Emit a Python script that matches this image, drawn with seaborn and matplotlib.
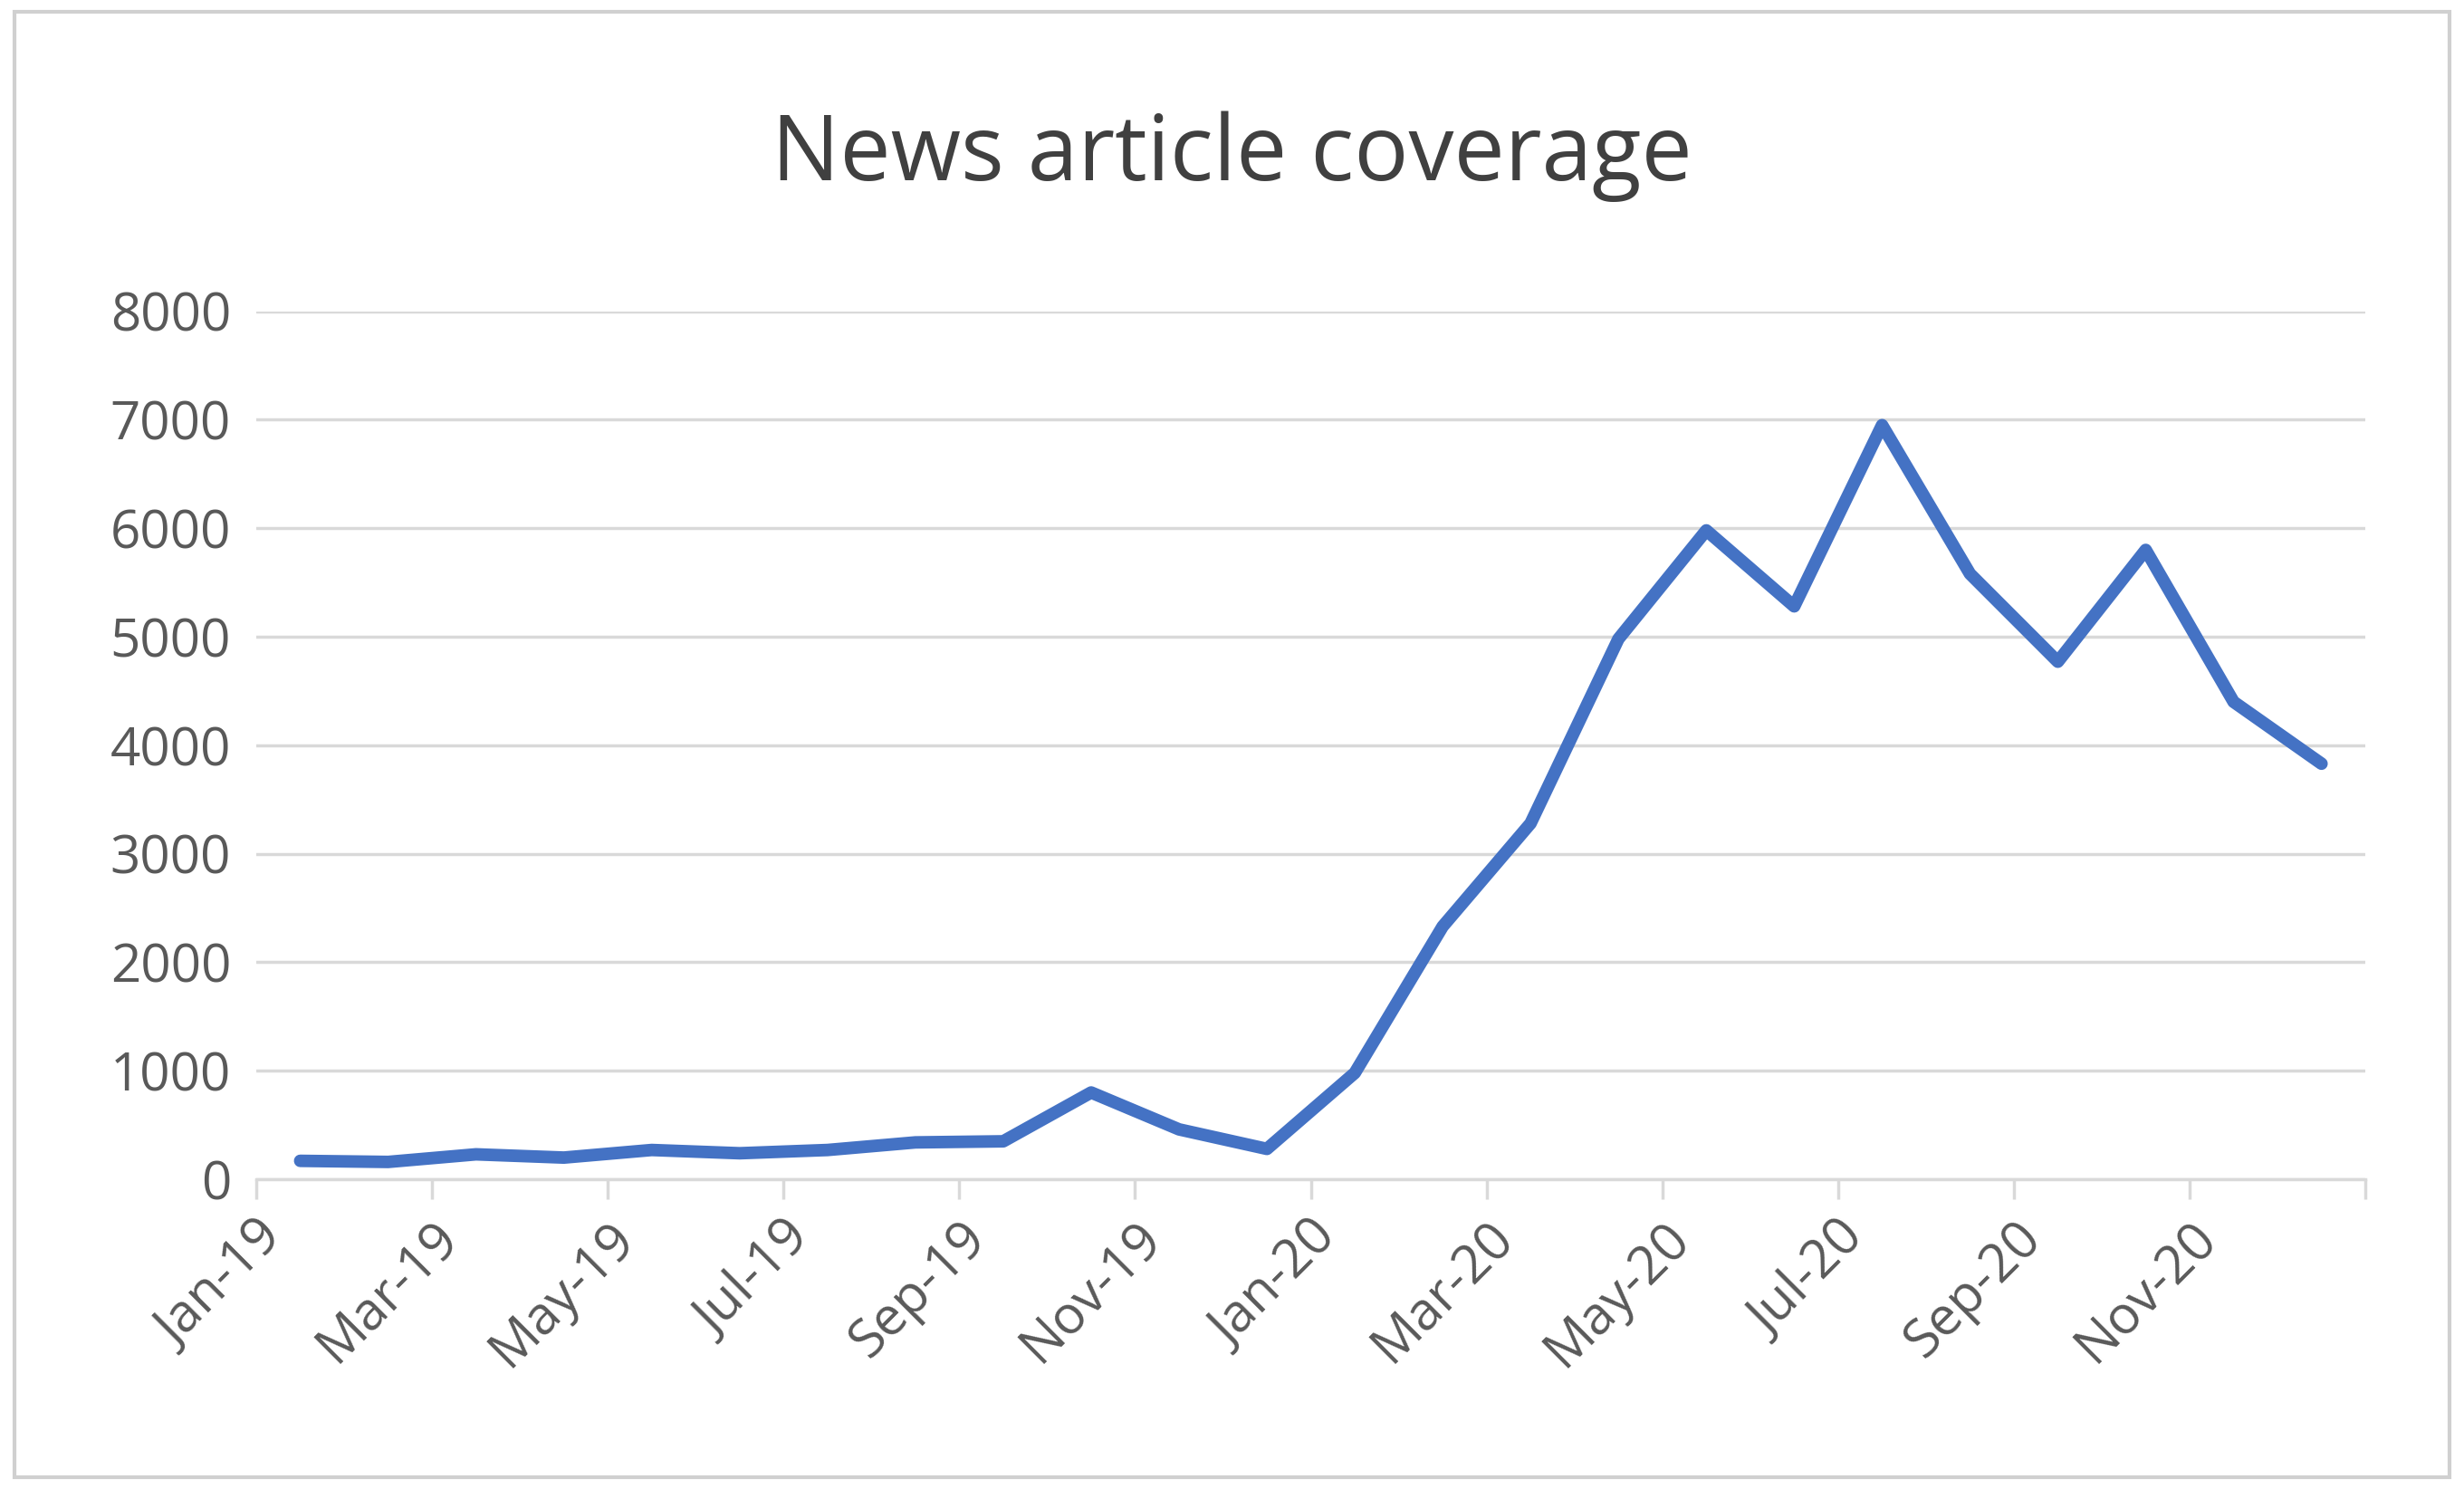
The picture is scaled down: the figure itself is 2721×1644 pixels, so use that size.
import matplotlib
matplotlib.use("Agg")
import matplotlib.pyplot as plt
import seaborn as sns
import pandas as pd
import numpy as np
from matplotlib.patches import Rectangle

months = ["Jan-19", "Feb-19", "Mar-19", "Apr-19", "May-19", "Jun-19",
          "Jul-19", "Aug-19", "Sep-19", "Oct-19", "Nov-19", "Dec-19",
          "Jan-20", "Feb-20", "Mar-20", "Apr-20", "May-20", "Jun-20",
          "Jul-20", "Aug-20", "Sep-20", "Oct-20", "Nov-20", "Dec-20"]
articles = [170, 160, 230, 200, 270, 240, 270, 340, 350, 800, 460, 280,
            980, 2330, 3280, 4980, 5980, 5280, 6950, 5580, 4770, 5800, 4400, 3830]

df = pd.DataFrame({"pos": np.arange(len(months)) + 0.5, "articles": articles})

sns.set_style("white")
plt.rcParams["font.family"] = ["Open Sans", "DejaVu Sans"]

fig = plt.figure(figsize=(27.21, 16.44), dpi=100)
ax = fig.add_axes([0.104, 0.208, 0.856, 0.583])
fig.patches.append(Rectangle((0.006, 0.008), 0.988, 0.984, transform=fig.transFigure,
                             fill=False, edgecolor="#d0d0d0", linewidth=3))

sns.lineplot(data=df, x="pos", y="articles", ax=ax, color="#4472C4", linewidth=10)

ax.set_xlim(0, 24)
ax.set_ylim(0, 8000)
ax.set_yticks(range(0, 8001, 1000))
ax.yaxis.grid(True, color="#d9d9d9", linewidth=2.5)
ax.set_xticks(range(0, 25, 2))
ax.set_xticklabels(months[::2] + [""], rotation=45, ha="right", rotation_mode="anchor")
ax.set_xlabel("")
ax.set_ylabel("")
for s in ["top", "right", "left"]:
    ax.spines[s].set_visible(False)
ax.spines["bottom"].set_color("#d9d9d9")
ax.spines["bottom"].set_linewidth(2.5)
ax.tick_params(axis="x", which="major", bottom=True, length=16, width=2.5, color="#d9d9d9",
               labelsize=42, labelcolor="#595959", pad=10)
ax.tick_params(axis="y", length=0, labelsize=42, labelcolor="#595959", pad=20)

fig.text(0.5, 0.895, "News article coverage", ha="center", va="center",
         fontsize=72, color="#404040")

fig.savefig("out.png", dpi=100)
